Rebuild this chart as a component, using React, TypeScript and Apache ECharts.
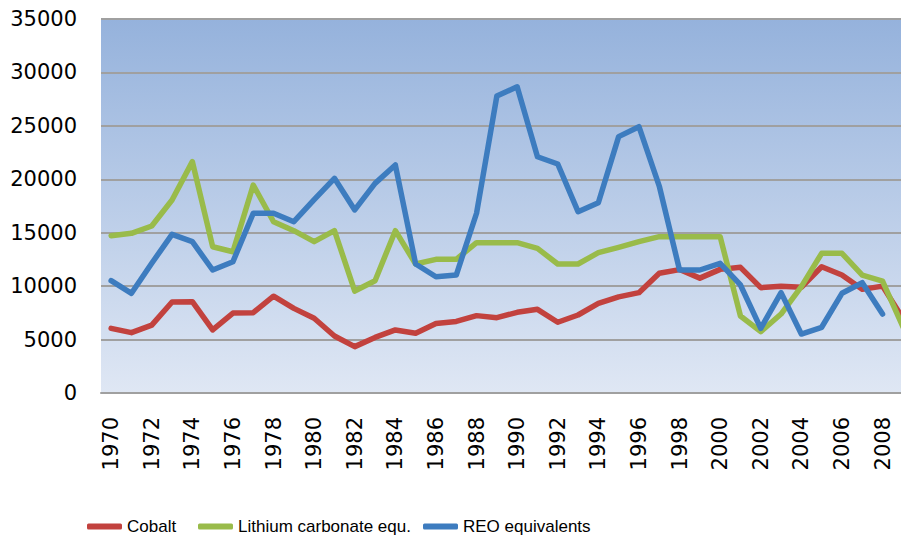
import React, { useEffect, useRef } from "react";
import * as echarts from "echarts";

const years: string[] = [];
for (let y = 1970; y <= 2009; y++) years.push(String(y));

const cobalt = [
  6050, 5650, 6350, 8520, 8550, 5900, 7480, 7520, 9060, 7920,
  7000, 5330, 4340, 5200, 5900, 5600, 6500, 6700, 7240, 7050,
  7550, 7830, 6620, 7300, 8390, 9000, 9390, 11200, 11550, 10750,
  11570, 11760, 9860, 10000, 9900, 11820, 11040, 9700, 10000, 7000,
];

const lithium = [
  14720, 14940, 15630, 18060, 21650, 13690, 13220, 19460, 16030, 15190,
  14160, 15190, 9540, 10510, 15190, 12070, 12510, 12510, 14070, 14070,
  14070, 13540, 12070, 12070, 13130, 13630, 14160, 14630, 14630, 14630,
  14630, 7210, 5740, 7390, 9950, 13070, 13070, 11040, 10480, 6200,
];

const reo: (number | null)[] = [
  10510, 9330, 12140, 14850, 14160, 11510, 12290, 16820, 16820, 16030,
  18100, 20090, 17130, 19620, 21340, 12070, 10880, 11040, 16820, 27790,
  28660, 22110, 21430, 16970, 17810, 23990, 24920, 19370, 11510, 11510,
  12140, 10110, 6050, 9390, 5520, 6150, 9330, 10320, 7390, null,
];

const seriesNames = ["Cobalt", "Lithium carbonate equ.", "REO equivalents"];
const colors = ["#c2423e", "#99bb4a", "#3d7cbf"];
const legendLefts = [82, 193, 418];

export default function App() {
  const ref = useRef<HTMLDivElement>(null);
  useEffect(() => {
    document.body.style.margin = "0";
    const chart = echarts.init(ref.current!, null, { renderer: "svg" });
    const axisFont = { fontFamily: "DejaVu Sans", fontSize: 21, color: "#000" };
    chart.setOption({
      animation: false,
      backgroundColor: "#fff",
      grid: {
        left: 101,
        top: 19,
        bottom: 147,
        right: 0,
        show: true,
        borderWidth: 0,
        backgroundColor: new echarts.graphic.LinearGradient(0, 0, 0, 1, [
          { offset: 0, color: "#95b2dc" },
          { offset: 1, color: "#dfe7f4" },
        ]),
      },
      legend: seriesNames.map((n, i) => ({
        left: legendLefts[i],
        top: 513,
        icon: "roundRect",
        itemWidth: 35,
        itemHeight: 6,
        textStyle: {
          fontFamily: "Liberation Sans",
          fontSize: 17,
          color: "#000",
        },
        data: [n],
      })),
      xAxis: {
        type: "category",
        data: years,
        boundaryGap: true,
        axisLine: { lineStyle: { color: "#a0a0a0", width: 2 } },
        axisTick: { show: false },
        axisLabel: { ...axisFont, rotate: 90, interval: 1, margin: 24 },
      },
      yAxis: {
        type: "value",
        min: 0,
        max: 35000,
        interval: 5000,
        axisLine: { show: false },
        axisTick: { show: false },
        axisLabel: { ...axisFont, margin: 24, formatter: (v: number) => String(v) },
        splitLine: { lineStyle: { color: "#a0a0a0", width: 2 } },
      },
      series: [cobalt, lithium, reo].map((d, i) => ({
        name: seriesNames[i],
        type: "line",
        data: d,
        showSymbol: false,
        symbol: "none",
        smooth: false,
        color: colors[i],
        lineStyle: { width: 5.5, color: colors[i], cap: "round", join: "round" },
      })),
    });
    return () => chart.dispose();
  }, []);
  return (
    <div style={{ width: 901, height: 540, overflow: "hidden" }}>
      <div ref={ref} style={{ width: 913, height: 540 }} />
    </div>
  );
}
